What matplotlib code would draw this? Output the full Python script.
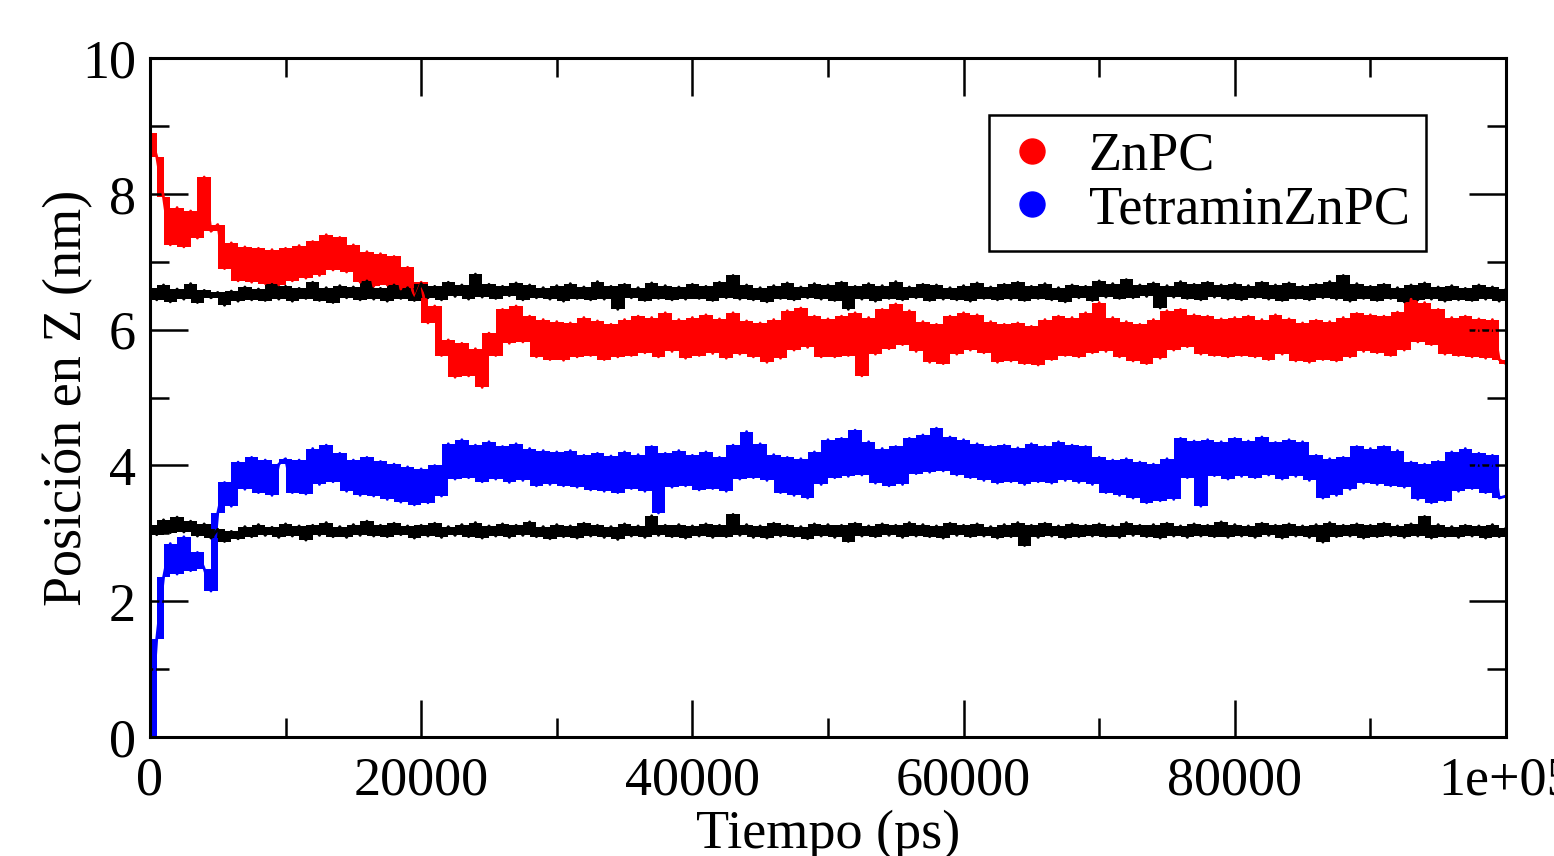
import numpy as np
import matplotlib
matplotlib.use("Agg")
import matplotlib.pyplot as plt
from matplotlib.lines import Line2D

plt.rcParams["font.family"] = ["Liberation Serif", "DejaVu Serif"]

# time axis of the trajectory, one frame every 500 ps
time_ps = np.arange(0, 100001, 500)

# upper membrane reference (phosphate plane), nm
membrane_top = [
    6.62, 6.44, 6.66, 6.41, 6.60, 6.45, 6.68, 6.40, 6.58, 6.47, 6.55, 6.36, 6.57, 6.42, 6.63, 6.44, 6.60, 6.43, 6.67, 6.45,
    6.64, 6.42, 6.61, 6.46, 6.70, 6.43, 6.62, 6.40, 6.65, 6.47, 6.63, 6.44, 6.72, 6.45, 6.61, 6.42, 6.66, 6.46, 6.62, 6.43,
    6.68, 6.47, 6.64, 6.44, 6.70, 6.49, 6.66, 6.45, 6.82, 6.48, 6.67, 6.46, 6.64, 6.50, 6.69, 6.44, 6.66, 6.47, 6.62, 6.45,
    6.65, 6.42, 6.68, 6.46, 6.63, 6.44, 6.71, 6.45, 6.64, 6.30, 6.67, 6.47, 6.62, 6.43, 6.69, 6.46, 6.65, 6.44, 6.63, 6.45,
    6.67, 6.46, 6.64, 6.43, 6.70, 6.47, 6.80, 6.45, 6.66, 6.44, 6.62, 6.41, 6.65, 6.46, 6.69, 6.44, 6.63, 6.47, 6.68, 6.45,
    6.66, 6.43, 6.70, 6.30, 6.64, 6.45, 6.68, 6.42, 6.65, 6.46, 6.71, 6.44, 6.63, 6.47, 6.67, 6.43, 6.66, 6.45, 6.62, 6.44,
    6.65, 6.42, 6.69, 6.46, 6.63, 6.44, 6.67, 6.45, 6.70, 6.43, 6.64, 6.46, 6.68, 6.44, 6.62, 6.41, 6.66, 6.47, 6.64, 6.43,
    6.72, 6.48, 6.68, 6.46, 6.74, 6.47, 6.66, 6.49, 6.69, 6.32, 6.65, 6.48, 6.71, 6.46, 6.67, 6.44, 6.70, 6.48, 6.66, 6.45,
    6.68, 6.44, 6.65, 6.47, 6.70, 6.45, 6.66, 6.43, 6.69, 6.46, 6.64, 6.44, 6.67, 6.47, 6.71, 6.45, 6.80, 6.42, 6.68, 6.46,
    6.64, 6.43, 6.67, 6.46, 6.62, 6.41, 6.66, 6.44, 6.69, 6.45, 6.63, 6.42, 6.65, 6.44, 6.61, 6.43, 6.66, 6.45, 6.63, 6.42, 6.60,
]

# lower membrane reference, nm
membrane_bottom = [
    3.12, 2.98, 3.20, 3.01, 3.24, 3.02, 3.18, 2.96, 3.14, 2.93, 3.06, 2.88, 3.03, 2.92, 3.10, 2.95, 3.13, 2.97, 3.09, 2.94,
    3.14, 2.96, 3.11, 2.90, 3.12, 2.97, 3.16, 2.95, 3.10, 2.94, 3.13, 2.97, 3.18, 2.96, 3.12, 2.95, 3.15, 2.98, 3.11, 2.93,
    3.12, 2.96, 3.15, 2.94, 3.10, 2.97, 3.13, 2.95, 3.16, 2.93, 3.11, 2.96, 3.14, 2.94, 3.12, 2.97, 3.17, 2.95, 3.10, 2.92,
    3.13, 2.95, 3.11, 2.93, 3.15, 2.96, 3.12, 2.94, 3.10, 2.91, 3.14, 2.96, 3.11, 2.94, 3.26, 2.97, 3.12, 2.95, 3.13, 2.93,
    3.11, 2.96, 3.14, 2.94, 3.12, 2.95, 3.28, 2.97, 3.13, 2.94, 3.11, 2.93, 3.15, 2.96, 3.12, 2.95, 3.10, 2.92, 3.14, 2.96,
    3.13, 2.94, 3.12, 2.88, 3.15, 2.96, 3.11, 2.95, 3.14, 2.97, 3.12, 2.94, 3.16, 2.96, 3.13, 2.95, 3.11, 2.93, 3.15, 2.97,
    3.12, 2.95, 3.14, 2.96, 3.10, 2.93, 3.13, 2.95, 3.16, 2.82, 3.12, 2.94, 3.15, 2.96, 3.11, 2.93, 3.14, 2.95, 3.12, 2.96,
    3.14, 2.95, 3.11, 2.94, 3.16, 2.97, 3.12, 2.95, 3.13, 2.93, 3.15, 2.96, 3.11, 2.94, 3.14, 2.96, 3.12, 2.95, 3.17, 2.94,
    3.13, 2.96, 3.11, 2.94, 3.15, 2.97, 3.12, 2.93, 3.14, 2.96, 3.11, 2.94, 3.13, 2.87, 3.16, 2.95, 3.12, 2.96, 3.14, 2.93,
    3.12, 2.95, 3.15, 2.96, 3.11, 2.94, 3.14, 2.96, 3.25, 2.93, 3.13, 2.95, 3.10, 2.94, 3.12, 2.96, 3.11, 2.93, 3.13, 2.95, 3.08,
]

# ZnPC centre-of-mass z position, nm
znpc_z = [
    8.90, 8.55, 7.95, 7.25, 7.80, 7.22, 7.75, 7.35, 8.25, 7.45, 7.55, 6.90, 7.28, 6.72, 7.22, 6.70, 7.20, 6.68, 7.18, 6.66,
    7.20, 6.72, 7.24, 6.76, 7.30, 6.80, 7.40, 6.88, 7.36, 6.85, 7.25, 6.70, 7.15, 6.64, 7.12, 6.66, 7.08, 6.60, 6.92, 6.45,
    6.70, 6.10, 6.35, 5.62, 5.85, 5.30, 5.80, 5.32, 5.72, 5.15, 5.95, 5.62, 6.30, 5.80, 6.35, 5.82, 6.20, 5.60, 6.15, 5.56,
    6.12, 5.55, 6.10, 5.60, 6.18, 5.62, 6.13, 5.56, 6.08, 5.60, 6.15, 5.62, 6.20, 5.66, 6.18, 5.60, 6.25, 5.68, 6.15, 5.58,
    6.18, 5.62, 6.22, 5.65, 6.16, 5.58, 6.25, 5.64, 6.13, 5.60, 6.10, 5.52, 6.15, 5.58, 6.28, 5.70, 6.32, 5.74, 6.20, 5.60,
    6.16, 5.60, 6.20, 5.62, 6.25, 5.32, 6.18, 5.64, 6.30, 5.72, 6.38, 5.78, 6.28, 5.68, 6.12, 5.52, 6.08, 5.50, 6.20, 5.64,
    6.25, 5.70, 6.22, 5.66, 6.12, 5.52, 6.08, 5.54, 6.10, 5.50, 6.05, 5.48, 6.15, 5.56, 6.20, 5.62, 6.18, 5.60, 6.25, 5.66,
    6.40, 5.68, 6.18, 5.60, 6.12, 5.54, 6.08, 5.50, 6.15, 5.58, 6.28, 5.70, 6.30, 5.75, 6.22, 5.64, 6.20, 5.62, 6.16, 5.60,
    6.18, 5.62, 6.20, 5.60, 6.15, 5.56, 6.22, 5.64, 6.16, 5.54, 6.10, 5.52, 6.14, 5.56, 6.12, 5.54, 6.18, 5.60, 6.24, 5.68,
    6.22, 5.66, 6.20, 5.62, 6.26, 5.70, 6.45, 5.82, 6.40, 5.78, 6.30, 5.64, 6.18, 5.62, 6.20, 5.60, 6.16, 5.58, 6.15, 5.56, 5.50,
]

# TetraminZnPC centre-of-mass z position, nm
tetramin_z = [
    0.00, 1.45, 2.35, 2.85, 2.40, 2.95, 2.45, 2.72, 2.48, 2.15, 3.30, 3.75, 3.40, 4.05, 3.65, 4.12, 3.60, 4.08, 3.56, 4.02,
    4.10, 3.60, 4.08, 3.58, 4.25, 3.72, 4.30, 3.76, 4.18, 3.62, 4.08, 3.56, 4.12, 3.55, 4.06, 3.50, 4.02, 3.46, 3.98, 3.42,
    3.95, 3.45, 4.00, 3.55, 4.32, 3.80, 4.38, 3.82, 4.30, 3.76, 4.35, 3.80, 4.28, 3.75, 4.32, 3.78, 4.25, 3.70, 4.22, 3.72,
    4.20, 3.70, 4.22, 3.68, 4.15, 3.64, 4.18, 3.62, 4.14, 3.60, 4.20, 3.66, 4.16, 3.62, 4.28, 3.30, 4.18, 3.68, 4.22, 3.70,
    4.15, 3.64, 4.20, 3.66, 4.12, 3.62, 4.30, 3.80, 4.50, 3.82, 4.32, 3.78, 4.16, 3.60, 4.12, 3.56, 4.10, 3.52, 4.20, 3.72,
    4.38, 3.82, 4.40, 3.84, 4.52, 3.86, 4.35, 3.74, 4.25, 3.70, 4.28, 3.72, 4.40, 3.88, 4.45, 3.90, 4.55, 3.92, 4.42, 3.86,
    4.38, 3.82, 4.32, 3.78, 4.28, 3.74, 4.30, 3.76, 4.26, 3.72, 4.32, 3.76, 4.28, 3.74, 4.35, 3.78, 4.30, 3.75, 4.28, 3.72,
    4.12, 3.60, 4.08, 3.56, 4.10, 3.52, 4.05, 3.45, 4.02, 3.48, 4.10, 3.50, 4.40, 3.82, 4.36, 3.40, 4.38, 3.85, 4.35, 3.80,
    4.40, 3.84, 4.36, 3.82, 4.42, 3.86, 4.34, 3.80, 4.38, 3.84, 4.35, 3.78, 4.15, 3.52, 4.10, 3.56, 4.12, 3.65, 4.28, 3.74,
    4.25, 3.72, 4.28, 3.70, 4.22, 3.68, 4.05, 3.50, 4.02, 3.45, 4.06, 3.48, 4.20, 3.62, 4.25, 3.66, 4.18, 3.60, 4.15, 3.52, 3.55,
]

series_labels = ["ZnPC", "TetraminZnPC"]
x_ticks = [0, 20000, 40000, 60000, 80000, 100000]
x_tick_labels = ["0", "20000", "40000", "60000", "80000", "1e+05"]
y_ticks = [0, 2, 4, 6, 8, 10]


def noisy_trace(ax, t, z, color, lw=2.0):
    """Dense MD trace: the line plus the span covered between consecutive frames."""
    z = np.asarray(z)
    lo = np.minimum(z[:-1], z[1:])
    hi = np.maximum(z[:-1], z[1:])
    lo = np.append(lo, lo[-1])
    hi = np.append(hi, hi[-1])
    ax.fill_between(t, lo, hi, step="post", color=color, lw=0)
    ax.plot(t, z, color=color, lw=lw)


fig = plt.figure(figsize=(15.54, 8.56), dpi=100)
ax = fig.add_axes([0.0965, 0.139, 0.8726, 0.793])

noisy_trace(ax, time_ps, znpc_z, "#ff0000")
noisy_trace(ax, time_ps, tetramin_z, "#0000ff")
noisy_trace(ax, time_ps, membrane_top, "black")
noisy_trace(ax, time_ps, membrane_bottom, "black")

ax.set_xlim(0, 100000)
ax.set_ylim(0, 10)
ax.set_xticks(x_ticks)
ax.set_xticklabels(x_tick_labels)
ax.set_xticks(np.arange(10000, 100000, 20000), minor=True)
ax.set_yticks(y_ticks)
ax.set_yticks([1, 3, 5, 7, 9], minor=True)

ax.tick_params(which="both", direction="in", top=True, right=True,
               width=1.8, labelsize=39)
ax.tick_params(which="major", length=27)
ax.tick_params(which="minor", length=14)
ax.tick_params(axis="x", which="major", pad=14)
ax.tick_params(axis="y", which="major", pad=10)
for sp in ax.spines.values():
    sp.set_linewidth(2.2)
    sp.set_zorder(5)

ax.set_xlabel("Tiempo (ps)", fontsize=39, labelpad=2)
ax.set_ylabel("Posición en Z (nm)", fontsize=39, labelpad=-8)

handles = [
    Line2D([], [], color="#ff0000", marker="o", ls="none", markersize=18),
    Line2D([], [], color="#0000ff", marker="o", ls="none", markersize=18),
]
leg = ax.legend(handles, series_labels, loc="upper right",
                bbox_to_anchor=(0.941, 0.916), borderaxespad=0,
                fontsize=39, frameon=True, fancybox=False, framealpha=1,
                edgecolor="black", handlelength=1.0, handletextpad=0.55,
                borderpad=0.3, labelspacing=0.05)
leg.get_frame().set_linewidth(1.8)

plt.savefig("out.png", dpi=100)
plt.close()
